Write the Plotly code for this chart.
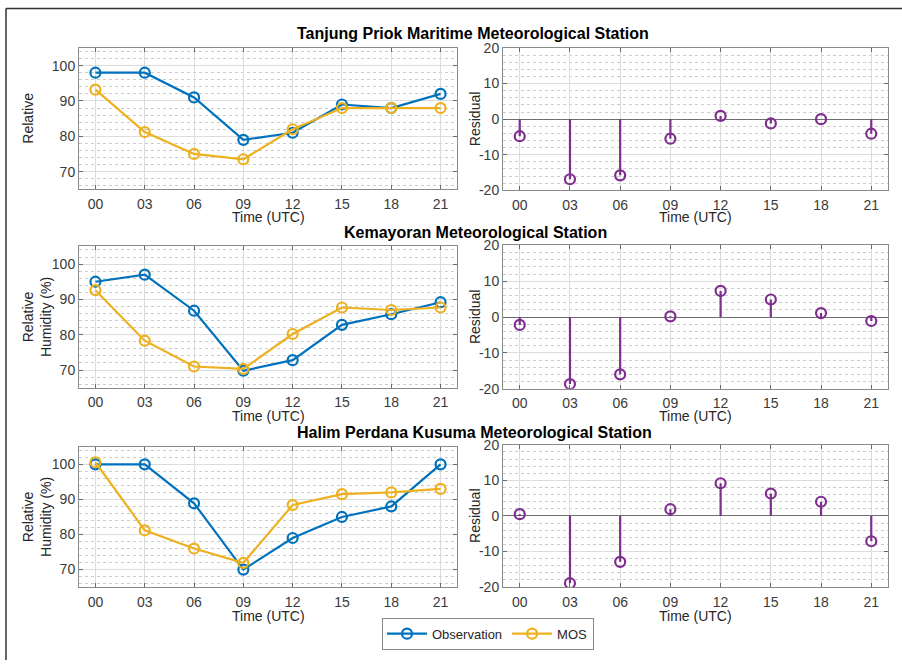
import plotly.graph_objects as go

W, H = 902, 668

hours = [0, 3, 6, 9, 12, 15, 18, 21]
hour_labels = ["00", "03", "06", "09", "12", "15", "18", "21"]

rh_ticks = [70, 80, 90, 100]
res_ticks = [-20, -10, 0, 10, 20]
res_tick_labels = ["-20", "-10", "0", "10", "20"]

stations = ["Tanjung Priok Maritime Meteorological Station",
            "Kemayoran Meteorological Station",
            "Halim Perdana Kusuma Meteorological Station"]

obs_tanjung = [98, 98, 91, 79, 81, 89, 88, 92]
mos_tanjung = [93.2, 81.2, 75, 73.5, 82, 88, 88, 88]
res_tanjung = [-4.8, -16.9, -15.8, -5.5, 0.9, -1.2, 0.0, -4.1]

obs_kemayoran = [95, 97, 86.8, 69.8, 72.8, 82.8, 85.8, 89.2]
mos_kemayoran = [92.6, 78.3, 71, 70.3, 80.2, 87.7, 87, 87.7]
res_kemayoran = [-2.2, -18.7, -16, 0.2, 7.3, 4.9, 1.1, -1.1]

obs_halim = [100, 100, 88.9, 70, 79, 85, 88, 100]
mos_halim = [100.6, 81.2, 76, 71.9, 88.4, 91.5, 92, 93]
res_halim = [0.5, -18.9, -12.9, 1.9, 9.2, 6.3, 4.0, -7.1]

obs_all = [obs_tanjung, obs_kemayoran, obs_halim]
mos_all = [mos_tanjung, mos_kemayoran, mos_halim]
res_all = [res_tanjung, res_kemayoran, res_halim]

BLUE = "#0072BD"
YELLOW = "#EDB120"
PURPLE = "#7E2F8E"
FONT = "Liberation Sans, Arial, sans-serif"

# vertical correction measured for the capture pipeline
Y_SCALE, Y_OFF = 0.974, 8.1


def px(x):
    return x / W


def py(t):
    y = (t - Y_OFF) / Y_SCALE
    y = max(y, 0.6)
    return 1 - y / H


# target pixel boxes [x0, x1, ytop, ybottom]
left_boxes = [(79, 457, 48, 189), (79, 457, 246, 387), (79, 457, 446, 586)]
right_boxes = [(503, 888, 48, 190), (503, 888, 245, 388), (503, 888, 444, 586)]
title_ys = [34, 232, 432]
title_xs = [473.5, 475, 474.5]
xtitle_ys = [217, 415, 615]

fig = go.Figure()
layout = {}
annotations = []


def axis_common():
    return dict(
        showline=True, linecolor="#8a8a8a", linewidth=1, mirror="ticks",
        ticks="inside", ticklen=4, tickcolor="#6a6a6a",
        showgrid=True, gridcolor="#dcdcdc", gridwidth=1,
        tickfont=dict(family=FONT, size=14, color="#3a3a3a"),
        zeroline=False, fixedrange=True,
    )


for i in range(3):
    ax_n = 2 * i + 1
    rx_n = 2 * i + 2
    lx0, lx1, lyt, lyb = left_boxes[i]
    rx0, rx1, ryt, ryb = right_boxes[i]

    xl = axis_common()
    xl.update(domain=[px(lx0), px(lx1)], range=[-1, 22], anchor=f"y{ax_n}",
              tickvals=hours, ticktext=hour_labels, ticklabelstandoff=2)
    yl = axis_common()
    yl.update(domain=[py(lyb), py(lyt)], range=[65, 105], anchor=f"x{ax_n}",
              tickvals=rh_ticks,
              minor=dict(dtick=2, tick0=0, showgrid=True, griddash="dot",
                         gridcolor="#cccccc", ticks=""))
    xr = axis_common()
    xr.update(domain=[px(rx0), px(rx1)], range=[-1, 22], anchor=f"y{rx_n}",
              tickvals=hours, ticktext=hour_labels, ticklabelstandoff=2)
    yr = axis_common()
    yr.update(domain=[py(ryb), py(ryt)], range=[-20, 20], anchor=f"x{rx_n}",
              tickvals=res_ticks, ticktext=res_tick_labels,
              zeroline=True, zerolinecolor="#6e6e6e", zerolinewidth=1.3,
              minor=dict(dtick=2, tick0=0, showgrid=True, griddash="dot",
                         gridcolor="#cccccc", ticks=""))

    suffix_l = "" if ax_n == 1 else str(ax_n)
    layout[f"xaxis{suffix_l}"] = xl
    layout[f"yaxis{suffix_l}"] = yl
    layout[f"xaxis{rx_n}"] = xr
    layout[f"yaxis{rx_n}"] = yr

    xref_l = f"x{suffix_l}" if suffix_l else "x"
    yref_l = f"y{suffix_l}" if suffix_l else "y"

    fig.add_trace(go.Scatter(
        x=hours, y=obs_all[i], mode="lines+markers", name="Observation",
        line=dict(color=BLUE, width=2.2),
        marker=dict(symbol="circle-open", size=10, color=BLUE, line=dict(width=2.2, color=BLUE)),
        xaxis=xref_l, yaxis=yref_l, showlegend=(i == 0), legendgroup="obs"))
    fig.add_trace(go.Scatter(
        x=hours, y=mos_all[i], mode="lines+markers", name="MOS",
        line=dict(color=YELLOW, width=2.2),
        marker=dict(symbol="circle-open", size=10, color=YELLOW, line=dict(width=2.2, color=YELLOW)),
        xaxis=xref_l, yaxis=yref_l, showlegend=(i == 0), legendgroup="mos"))

    # stems of the residual plot
    sx, sy = [], []
    for h, r in zip(hours, res_all[i]):
        sx += [h, h, None]
        sy += [0, r, None]
    fig.add_trace(go.Scatter(
        x=sx, y=sy, mode="lines", line=dict(color=PURPLE, width=2.2),
        xaxis=f"x{rx_n}", yaxis=f"y{rx_n}", showlegend=False, hoverinfo="skip"))
    fig.add_trace(go.Scatter(
        x=hours, y=res_all[i], mode="markers", name="Residual",
        marker=dict(symbol="circle-open", size=10, color=PURPLE, line=dict(width=2.2, color=PURPLE)),
        xaxis=f"x{rx_n}", yaxis=f"y{rx_n}", showlegend=False))

    # station title
    annotations.append(dict(
        text=f"<b>{stations[i]}</b>", x=px(title_xs[i]), y=py(title_ys[i]),
        xref="paper", yref="paper", showarrow=False,
        font=dict(family=FONT, size=16, color="#000000"),
        xanchor="center", yanchor="middle"))

    # x-axis titles
    for cx in [(lx0 + lx1) / 2, (rx0 + rx1) / 2]:
        annotations.append(dict(
            text="Time (UTC)", x=px(cx), y=py(xtitle_ys[i]),
            xref="paper", yref="paper", showarrow=False,
            font=dict(family=FONT, size=14, color="#262626"),
            xanchor="center", yanchor="middle"))

    # y-axis titles
    ymid_l = (lyt + lyb) / 2
    if i == 0:
        annotations.append(dict(
            text="Relative", x=px(28), y=py(ymid_l), xref="paper", yref="paper",
            showarrow=False, textangle=-90,
            font=dict(family=FONT, size=14, color="#262626"),
            xanchor="center", yanchor="middle"))
    else:
        annotations.append(dict(
            text="Relative<br>Humidity (%)", x=px(37), y=py(ymid_l), xref="paper", yref="paper",
            showarrow=False, textangle=-90,
            font=dict(family=FONT, size=14, color="#262626"),
            xanchor="center", yanchor="middle"))
    annotations.append(dict(
        text="Residual", x=px(475), y=py((ryt + ryb) / 2), xref="paper", yref="paper",
        showarrow=False, textangle=-90,
        font=dict(family=FONT, size=14, color="#262626"),
        xanchor="center", yanchor="middle"))

shapes = [
    dict(type="line", xref="paper", yref="paper", x0=px(6), x1=px(6), y0=py(7), y1=0,
         line=dict(color="#333333", width=1.5)),
    dict(type="line", xref="paper", yref="paper", x0=px(6), x1=1, y0=py(7), y1=py(7),
         line=dict(color="#333333", width=1.5)),
]

fig.update_layout(
    width=W, height=H,
    margin=dict(l=0, r=0, t=0, b=0),
    paper_bgcolor="white", plot_bgcolor="white",
    annotations=annotations, shapes=shapes,
    showlegend=True,
    legend=dict(orientation="h", x=px(488), y=py(632.5), xanchor="center", yanchor="middle",
                bordercolor="#8a8a8a", borderwidth=1, bgcolor="white",
                font=dict(family=FONT, size=13, color="#262626"),
                itemwidth=40, tracegroupgap=0),
    **layout,
)

fig.write_html(
    "out.html",
    config={"displayModeBar": False},
    post_script="document.body.style.margin='0';document.body.style.overflow='hidden';",
)
